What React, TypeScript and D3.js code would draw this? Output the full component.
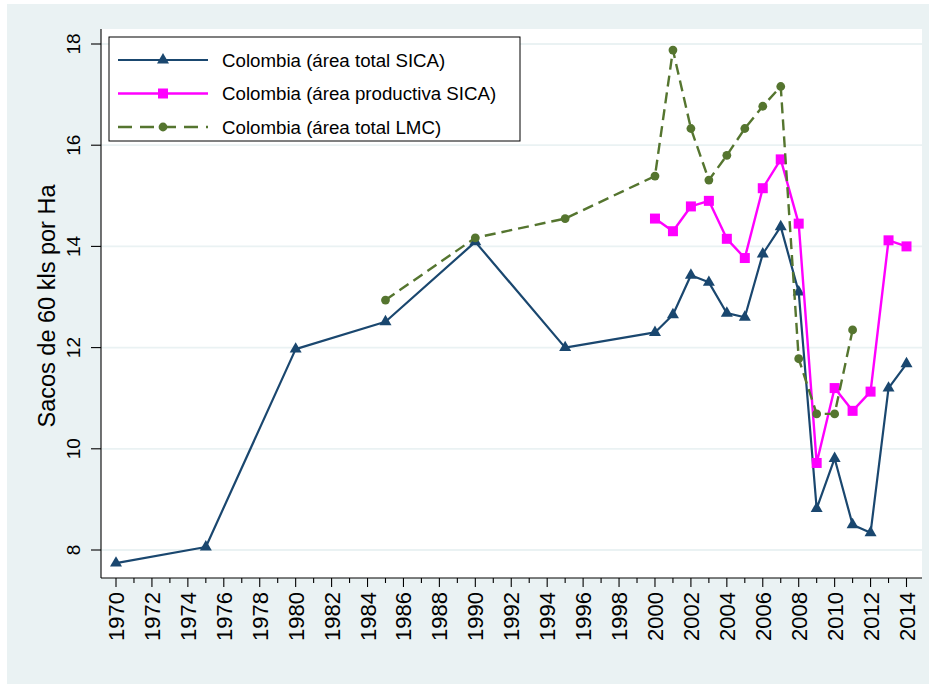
import React from "react";
import * as d3 from "d3";

const yearsSicaTotal = [1970, 1975, 1980, 1985, 1990, 1995, 2000, 2001, 2002, 2003, 2004, 2005, 2006, 2007, 2008, 2009, 2010, 2011, 2012, 2013, 2014];
const valuesSicaTotal = [7.74, 8.06, 11.97, 12.51, 14.09, 12.0, 12.3, 12.65, 13.43, 13.29, 12.68, 12.6, 13.85, 14.39, 13.1, 8.82, 9.81, 8.5, 8.34, 11.2, 11.68];

const yearsSicaProd = [2000, 2001, 2002, 2003, 2004, 2005, 2006, 2007, 2008, 2009, 2010, 2011, 2012, 2013, 2014];
const valuesSicaProd = [14.55, 14.3, 14.79, 14.9, 14.15, 13.77, 15.15, 15.72, 14.45, 9.72, 11.2, 10.75, 11.13, 14.12, 14.0];

const yearsLmc = [1985, 1990, 1995, 2000, 2001, 2002, 2003, 2004, 2005, 2006, 2007, 2008, 2009, 2010, 2011];
const valuesLmc = [12.94, 14.17, 14.55, 15.39, 17.88, 16.33, 15.31, 15.8, 16.33, 16.77, 17.16, 11.78, 10.69, 10.69, 12.35];

const seriesNames = ["Colombia (área total SICA)", "Colombia (área productiva SICA)", "Colombia (área total LMC)"];
const yTicks = [8, 10, 12, 14, 16, 18];
const xTickYears = d3.range(1970, 2015);
const yTitle = "Sacos de 60 kls por Ha";

const W = 936;
const H = 684;
const BG = "#eaf2f3";
const NAVY = "#1a476f";
const PINK = "#ff00ff";
const GREEN = "#55752f";
const FONT = "'Liberation Sans', Arial, sans-serif";

const plot = { left: 101, right: 922, top: 29, bottom: 578 };
const x = d3.scaleLinear().domain([1970, 2014]).range([116, 906.5]);
const y = d3.scaleLinear().domain([8, 18]).range([550, 44]);

type Pt = [number, number];
const zip = (xs: number[], vs: number[]): Pt[] => xs.map((v, i) => [v, vs[i]]);

const line = d3.line<Pt>().x((d) => x(d[0])).y((d) => y(d[1]));

const triPath = (cx: number, cy: number, s: number) => {
  const h = s * 0.866;
  return `M${cx},${cy - (2 * h) / 3}L${cx + s / 2},${cy + h / 3}L${cx - s / 2},${cy + h / 3}Z`;
};

function Marker({ kind, cx, cy, color }: { kind: string; cx: number; cy: number; color: string }) {
  if (kind === "tri") return <path d={triPath(cx, cy, 12)} fill={color} />;
  if (kind === "sq") return <rect x={cx - 5} y={cy - 5} width={10} height={10} fill={color} />;
  return <circle cx={cx} cy={cy} r={4.4} fill={color} />;
}

export default function App() {
  const s1 = zip(yearsSicaTotal, valuesSicaTotal);
  const s2 = zip(yearsSicaProd, valuesSicaProd);
  const s3 = zip(yearsLmc, valuesLmc);
  const series = [
    { data: s1, color: NAVY, kind: "tri", width: 2.2, dash: undefined as string | undefined },
    { data: s2, color: PINK, kind: "sq", width: 2.4, dash: undefined as string | undefined },
    { data: s3, color: GREEN, kind: "circ", width: 2.4, dash: "11,6" },
  ];
  return (
    <svg width={W} height={H} style={{ position: "absolute", left: 0, top: 0 }} fontFamily={FONT}>
      <rect x={0} y={0} width={W} height={H} fill="#ffffff" />
      <rect x={7} y={4} width={922} height={680} fill={BG} />
      <rect x={plot.left} y={plot.top} width={plot.right - plot.left} height={plot.bottom - plot.top} fill="#ffffff" />
      {yTicks.map((t) => (
        <line key={"g" + t} x1={plot.left} x2={plot.right} y1={y(t)} y2={y(t)} stroke={BG} strokeWidth={1.8} />
      ))}
      {/* axes */}
      <line x1={plot.left} x2={plot.left} y1={plot.top} y2={plot.bottom} stroke="#000" strokeWidth={1.1} />
      <line x1={plot.left} x2={plot.right} y1={plot.bottom} y2={plot.bottom} stroke="#000" strokeWidth={1.1} />
      {yTicks.map((t) => (
        <g key={"yt" + t}>
          <line x1={plot.left - 10} x2={plot.left} y1={y(t)} y2={y(t)} stroke="#000" strokeWidth={1.1} />
          <text transform={`translate(80,${y(t)}) rotate(-90)`} textAnchor="middle" fontSize={19} fill="#000">
            {t}
          </text>
        </g>
      ))}
      {xTickYears.map((yr) => {
        const major = yr % 2 === 0;
        return (
          <g key={"xt" + yr}>
            <line x1={x(yr)} x2={x(yr)} y1={plot.bottom} y2={plot.bottom + (major ? 9 : 5)} stroke="#000" strokeWidth={1.1} />
            {major && (
              <text transform={`translate(${x(yr) + 8},592) rotate(-90)`} textAnchor="end" fontSize={22} fill="#000">
                {yr}
              </text>
            )}
          </g>
        );
      })}
      <text transform={`translate(55,306) rotate(-90)`} textAnchor="middle" fontSize={23.5} fill="#000">
        {yTitle}
      </text>
      {/* series */}
      {series.map((s, i) => (
        <g key={"s" + i}>
          <path d={line(s.data) || ""} fill="none" stroke={s.color} strokeWidth={s.width} strokeDasharray={s.dash} strokeLinejoin="round" />
          {s.data.map((d, j) => (
            <Marker key={j} kind={s.kind} cx={x(d[0])} cy={y(d[1])} color={s.color} />
          ))}
        </g>
      ))}
      {/* legend */}
      <rect x={109} y={37} width={411} height={104} fill="#ffffff" stroke="#000" strokeWidth={1} />
      {series.map((s, i) => {
        const ly = 60 + i * 33.5;
        return (
          <g key={"l" + i}>
            <line x1={118} x2={208} y1={ly} y2={ly} stroke={s.color} strokeWidth={s.width} strokeDasharray={s.dash ? "14,8" : undefined} />
            <Marker kind={s.kind} cx={163} cy={ly} color={s.color} />
            <text x={222} y={ly} dominantBaseline="central" fontSize={18.7} fill="#000">
              {seriesNames[i]}
            </text>
          </g>
        );
      })}
    </svg>
  );
}
